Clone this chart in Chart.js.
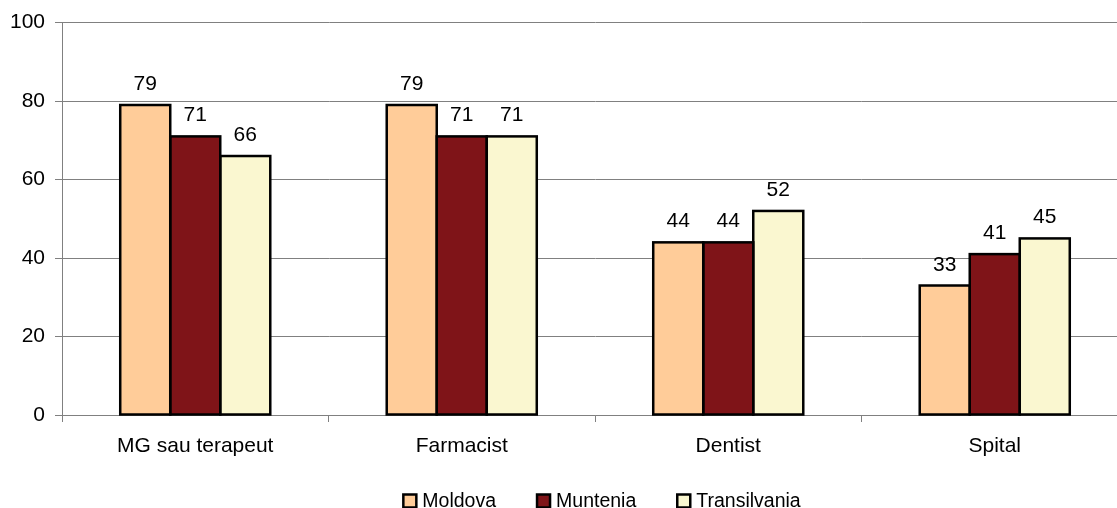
<!DOCTYPE html>
<html>
<head>
<meta charset="utf-8">
<script src="https://cdn.jsdelivr.net/npm/chart.js@4"></script>
<style>
  html, body { margin: 0; padding: 0; background: #fff; overflow: hidden; }
  #wrap { width: 1117px; height: 508px; overflow: hidden; }
  #c { display: block; }
</style>
</head>
<body>
<div id="wrap"><canvas id="c" width="1128" height="508"></canvas></div>
<script>
const categories = ['MG sau terapeut', 'Farmacist', 'Dentist', 'Spital'];
const seriesNames = ['Moldova', 'Muntenia', 'Transilvania'];
const moldova = [79, 79, 44, 33];
const muntenia = [71, 71, 44, 41];
const transilvania = [66, 71, 52, 45];
const yTicks = [0, 20, 40, 60, 80, 100];

const colors = ['#FFCC99', '#7F1418', '#FAF7D0'];
const FONT = '"Liberation Sans", Arial, sans-serif';

// Black outlines centred on the bar edges, so neighbouring bars share one line
const barOutlines = {
  id: 'barOutlines',
  afterDatasetsDraw(chart) {
    const ctx = chart.ctx;
    ctx.save();
    ctx.strokeStyle = '#000';
    ctx.lineWidth = 2.5;
    ctx.lineJoin = 'miter';
    chart.data.datasets.forEach((ds, i) => {
      chart.getDatasetMeta(i).data.forEach(bar => {
        const p = bar.getProps(['x', 'y', 'base', 'width'], true);
        ctx.strokeRect(p.x - p.width / 2, p.y, p.width, p.base - p.y);
      });
    });
    ctx.restore();
  }
};

// Value labels above each bar
const valueLabels = {
  id: 'valueLabels',
  afterDatasetsDraw(chart) {
    const ctx = chart.ctx;
    ctx.save();
    ctx.fillStyle = '#000';
    ctx.font = '21px ' + FONT;
    ctx.textAlign = 'center';
    ctx.textBaseline = 'alphabetic';
    chart.data.datasets.forEach((ds, i) => {
      chart.getDatasetMeta(i).data.forEach((bar, j) => {
        ctx.fillText(String(ds.data[j]), bar.x, bar.y - 15);
      });
    });
    ctx.restore();
  }
};

// Legend row under the axis
const bottomLegend = {
  id: 'bottomLegend',
  afterDraw(chart) {
    const ctx = chart.ctx;
    ctx.save();
    ctx.font = '19.5px ' + FONT;
    ctx.textBaseline = 'middle';
    const box = 13, gapText = 6, gapItem = 41, cy = 501;
    const items = chart.data.datasets.map(ds => ({
      label: ds.label, color: ds.backgroundColor, w: ctx.measureText(ds.label).width
    }));
    const total = items.reduce((s, it) => s + box + gapText + it.w, 0) + gapItem * (items.length - 1);
    let x = 602 - total / 2;
    items.forEach(it => {
      ctx.fillStyle = it.color;
      ctx.fillRect(x, cy - box / 2, box, box);
      ctx.strokeStyle = '#000';
      ctx.lineWidth = 2.5;
      ctx.strokeRect(x, cy - box / 2, box, box);
      ctx.fillStyle = '#000';
      ctx.fillText(it.label, x + box + gapText, cy + 1);
      x += box + gapText + it.w + gapItem;
    });
    ctx.restore();
  }
};

const datasets = [moldova, muntenia, transilvania].map((vals, i) => ({
  label: seriesNames[i],
  data: vals,
  backgroundColor: colors[i],
  borderWidth: 0,
  categoryPercentage: 0.563,
  barPercentage: 1.0
}));

new Chart(document.getElementById('c'), {
  type: 'bar',
  data: { labels: categories, datasets },
  options: {
    responsive: false,
    animation: false,
    layout: { padding: { top: 22, right: 0, bottom: 0, left: 0 } },
    plugins: { legend: { display: false }, tooltip: { enabled: false } },
    scales: {
      x: {
        afterFit(scale) { scale.height = 93; },
        grid: { drawOnChartArea: false, offset: true, tickLength: 7, color: '#808080' },
        border: { color: '#808080' },
        ticks: { color: '#000', font: { family: FONT, size: 21 }, padding: 12, maxRotation: 0 }
      },
      y: {
        min: 0, max: 100,
        afterFit(scale) { scale.width = 62; },
        afterBuildTicks(scale) { scale.ticks = yTicks.map(v => ({ value: v })); },
        grid: { color: '#808080', tickLength: 7 },
        border: { color: '#808080' },
        ticks: { color: '#000', font: { family: FONT, size: 21 }, padding: 10 }
      }
    }
  },
  plugins: [barOutlines, valueLabels, bottomLegend]
});
</script>
</body>
</html>
